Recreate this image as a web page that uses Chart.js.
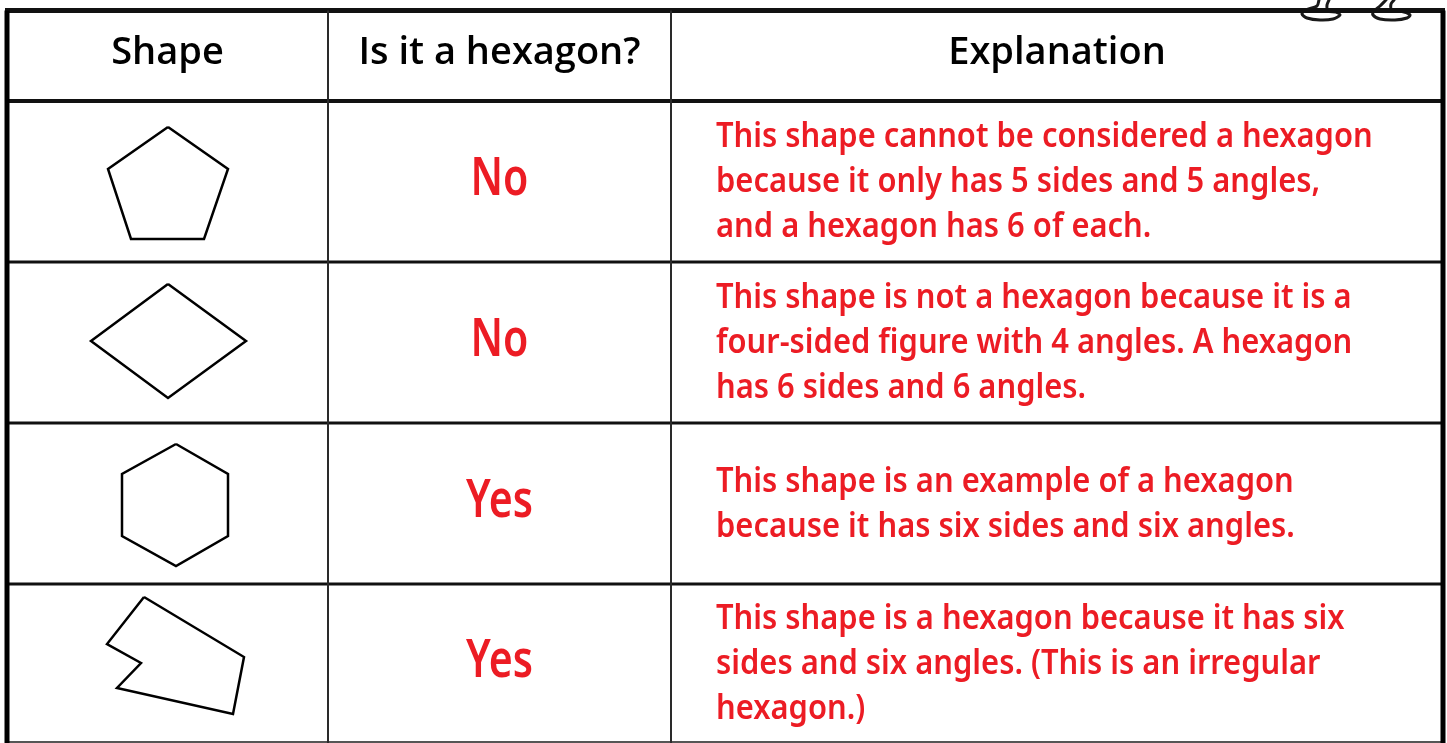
<!DOCTYPE html>
<html>
<head>
<meta charset="utf-8">
<script src="https://cdn.jsdelivr.net/npm/chart.js@4.4.1/dist/chart.umd.min.js"></script>
<style>
  html, body { margin: 0; padding: 0; background: #fff; }
  canvas { display: block; }
</style>
</head>
<body>
<canvas id="chart" width="1447" height="743"></canvas>
<script>
// table content
const headers = ["Shape", "Is it a hexagon?", "Explanation"];
const answers = ["No", "No", "Yes", "Yes"];
const explanations = [
    ["This shape cannot be considered a hexagon", "because it only has 5 sides and 5 angles,", "and a hexagon has 6 of each."],
    ["This shape is not a hexagon because it is a", "four-sided figure with 4 angles. A hexagon", "has 6 sides and 6 angles."],
    ["This shape is an example of a hexagon", "because it has six sides and six angles."],
    ["This shape is a hexagon because it has six", "sides and six angles. (This is an irregular", "hexagon.)"],
];

// cell edges
const colEdges = [7, 328, 671, 1443];
const rowEdges = [10.5, 101, 262, 423, 584, 742];

// shape outlines (closed polygons)
const pentagonX = [168, 228, 204, 131, 108, 168];
const pentagonY = [127, 169, 239, 239, 169, 127];
const diamondX = [168, 246, 168, 91, 168];
const diamondY = [284, 341, 398, 341, 284];
const hexagonX = [176, 228, 228, 176, 122, 122, 176];
const hexagonY = [444, 474, 536, 566, 536, 474, 444];
const irregularX = [144, 244, 233, 117, 141, 107, 144];
const irregularY = [597, 657, 714, 688, 663, 644, 597];

// the two feet peeking over the top edge
const leftFootX = [1319, 1317, 1306, 1302, 1307, 1320, 1333, 1340, 1336, 1328, 1327, 1329];
const leftFootY = [0, 6, 10, 14, 18, 20, 19, 15, 12, 11, 5, 0];
const rightFootX = [1386, 1380, 1374, 1373, 1380, 1395, 1407, 1410, 1404, 1392, 1391, 1394];
const rightFootY = [0, 6, 11, 15, 19, 20, 18, 15, 12, 10, 4, 0];

const RED = "#ec1c24";

const toPoints = (xs, ys) => xs.map((x, i) => ({ x, y: ys[i] }));

function lineDataset(points, width, color) {
    return {
        type: "line",
        data: points,
        showLine: true,
        borderColor: color,
        borderWidth: width,
        pointRadius: 0,
        fill: false,
        tension: 0,
    };
}

const datasets = [];

// grid: vertical lines
colEdges.forEach((x, i) => {
    const outer = i === 0 || i === colEdges.length - 1;
    datasets.push(lineDataset(
        [{ x, y: rowEdges[0] }, { x, y: rowEdges[rowEdges.length - 1] + 2 }],
        outer ? 5 : 2,
        outer ? "#000" : "#2a2a2a",
    ));
});
// grid: horizontal lines
rowEdges.forEach((y, i) => {
    const width = i === 0 ? 5 : i === 1 ? 4 : i === rowEdges.length - 1 ? 2 : 3;
    datasets.push(lineDataset(
        [{ x: colEdges[0] - 2, y }, { x: colEdges[colEdges.length - 1] + 2, y }],
        width,
        i === rowEdges.length - 1 ? "#555" : "#111",
    ));
});

// shapes
[[pentagonX, pentagonY], [diamondX, diamondY], [hexagonX, hexagonY], [irregularX, irregularY]]
    .forEach(([xs, ys]) => {
        const ds = lineDataset(toPoints(xs, ys), 2.5, "#000");
        ds.borderJoinStyle = "miter";
        datasets.push(ds);
    });

// feet
[[leftFootX, leftFootY], [rightFootX, rightFootY]].forEach(([xs, ys]) => {
    const ds = lineDataset(toPoints(xs, ys), 3, "#1a1a1a");
    ds.tension = 0.3;
    ds.fill = true;
    ds.backgroundColor = "#fff";
    ds.borderJoinStyle = "round";
    ds.borderCapStyle = "round";
    datasets.push(ds);
});

// text drawn at cell positions through the scales
const tableText = {
    id: "tableText",
    afterDatasetsDraw(chart) {
        const { ctx, scales: { x, y } } = chart;
        const drawScaled = (text, px, py, sx) => {
            ctx.save();
            ctx.translate(px, py);
            ctx.scale(sx, 1);
            ctx.fillText(text, 0, 0);
            ctx.restore();
        };

        ctx.save();
        ctx.textBaseline = "middle";

        // header
        ctx.fillStyle = "#000";
        ctx.font = "600 38px 'Open Sans'";
        ctx.textAlign = "center";
        headers.forEach((h, i) => {
            const cx = x.getPixelForValue((colEdges[i] + colEdges[i + 1]) / 2);
            const cy = y.getPixelForValue((rowEdges[0] + rowEdges[1]) / 2) - 3;
            ctx.fillText(h, cx, cy);
        });

        ctx.fillStyle = RED;
        // answers
        ctx.font = "600 52px 'Noto Sans'";
        ctx.textAlign = "center";
        answers.forEach((a, r) => {
            const cx = x.getPixelForValue((colEdges[1] + colEdges[2]) / 2);
            const cy = y.getPixelForValue((rowEdges[r + 1] + rowEdges[r + 2]) / 2) - 1;
            drawScaled(a, cx, cy, 0.79);
        });

        // explanations
        ctx.font = "600 35px 'Noto Sans'";
        ctx.textAlign = "left";
        const lineGap = 45;
        explanations.forEach((lines, r) => {
            const left = x.getPixelForValue(colEdges[2]) + 45;
            const mid = y.getPixelForValue((rowEdges[r + 1] + rowEdges[r + 2]) / 2) + 1;
            const top = mid - (lines.length - 1) * lineGap / 2;
            lines.forEach((line, k) => drawScaled(line, left, top + k * lineGap, 0.883));
        });
        ctx.restore();
    },
};

new Chart(document.getElementById("chart"), {
    type: "scatter",
    data: { datasets },
    options: {
        responsive: false,
        animation: false,
        layout: { padding: 0 },
        plugins: { legend: { display: false }, tooltip: { enabled: false } },
        scales: {
            x: { type: "linear", min: 0, max: 1447, display: false },
            y: { type: "linear", min: 0, max: 743, reverse: true, display: false },
        },
    },
    plugins: [tableText],
});
</script>
</body>
</html>
